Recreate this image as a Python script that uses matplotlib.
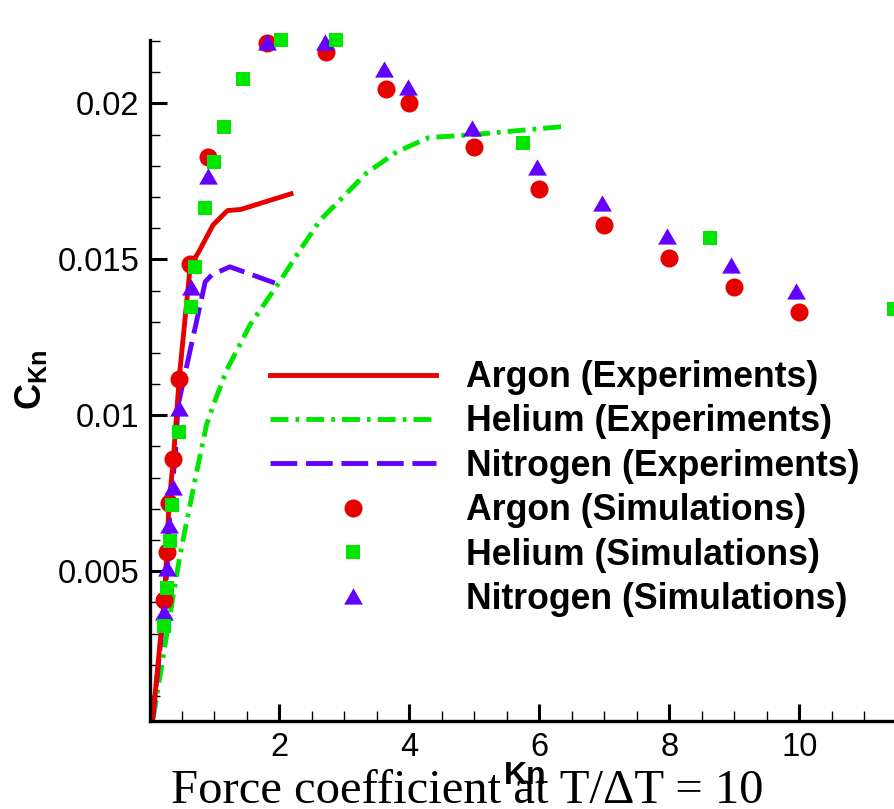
import matplotlib
matplotlib.use("Agg")
import matplotlib.pyplot as plt
from matplotlib.ticker import MultipleLocator, FuncFormatter

plt.rcParams['font.family'] = ['Liberation Sans', 'DejaVu Sans']
plt.rcParams['mathtext.fontset'] = 'custom'
plt.rcParams['mathtext.bf'] = 'Liberation Sans:bold'
plt.rcParams['mathtext.rm'] = 'Liberation Sans'

# ---- Experimental curves ----
argon_exp_kn = [0.05, 0.10, 0.16, 0.23, 0.27, 0.30, 0.37, 0.46, 0.63, 0.75, 0.98, 1.20, 1.41, 2.18]
argon_exp_c = [0.0003, 0.0013, 0.0026, 0.0041, 0.0056, 0.0071, 0.0086, 0.0112, 0.0148, 0.0152,
               0.0161, 0.01656, 0.0166, 0.0171]

helium_exp_kn = [0.06, 0.27, 0.47, 0.70, 0.88, 0.98, 1.19, 1.55, 2.01, 2.32, 2.63, 3.34, 3.81, 4.3, 5.0, 6.34]
helium_exp_c = [0.0003, 0.0030, 0.0055, 0.0079, 0.0097, 0.0103, 0.01145, 0.0129, 0.0143, 0.0153,
                0.01626, 0.01776, 0.01845, 0.0189, 0.0190, 0.01925]

nitrogen_exp_kn = [0.05, 0.215, 0.27, 0.32, 0.40, 0.44, 0.86, 0.96, 1.24, 1.93]
nitrogen_exp_c = [0.0002, 0.00355, 0.0050, 0.0071, 0.0087, 0.0103, 0.01428, 0.0145, 0.01476, 0.01424]

# ---- Simulation points ----
argon_sim_kn = [0.23, 0.27, 0.30, 0.37, 0.46, 0.63, 0.90, 1.81, 2.72, 3.64, 4.0,
                5.0, 6.0, 7.0, 8.0, 9.0, 10.0]
argon_sim_c = [0.00408, 0.00561, 0.00718, 0.00859, 0.01116, 0.01485, 0.01827, 0.02192, 0.02163,
               0.02047, 0.0200, 0.01859, 0.01726, 0.01609, 0.01505, 0.01412, 0.01330]

helium_sim_kn = [0.23, 0.27, 0.32, 0.35, 0.45, 0.64, 0.71, 0.86, 1.0, 1.15, 1.44, 2.02, 2.87,
                 5.75, 8.63, 11.45]
helium_sim_c = [0.00326, 0.00447, 0.00597, 0.00712, 0.00947, 0.01346, 0.01474, 0.01665, 0.01811,
                0.01924, 0.02077, 0.02203, 0.02203, 0.01872, 0.01569, 0.01341]

nitrogen_sim_kn = [0.22, 0.27, 0.31, 0.36, 0.46, 0.64, 0.90, 1.81, 2.70, 3.61, 3.98,
                   4.97, 5.96, 6.96, 7.96, 8.95, 9.95]
nitrogen_sim_c = [0.00369, 0.00510, 0.00649, 0.00769, 0.01022, 0.01410, 0.01767, 0.02198, 0.02198,
                  0.02110, 0.02053, 0.01922, 0.01795, 0.01679, 0.01575, 0.01482, 0.01398]

labels = ["Argon (Experiments)", "Helium (Experiments)", "Nitrogen (Experiments)",
          "Argon (Simulations)", "Helium (Simulations)", "Nitrogen (Simulations)"]

RED = "#e60000"
GREEN = "#00e600"
PURPLE = "#6400ff"

W, H = 895, 809
fig = plt.figure(figsize=(W / 100, H / 100), dpi=100)
ax = fig.add_axes([150.5 / W, 1 - 720.7 / H, 1 - 150.5 / W, (720.7 - 40) / H])

lw = 3.5
h_he, = ax.plot(helium_exp_kn, helium_exp_c, color=GREEN, lw=lw,
                dashes=(3.7, 1.45, 0.75, 1.45), zorder=2)
h_n2, = ax.plot(nitrogen_exp_kn, nitrogen_exp_c, color=PURPLE, lw=lw,
                dashes=(5.5, 1.8), zorder=2.1)
h_ar, = ax.plot(argon_exp_kn, argon_exp_c, color=RED, lw=lw, zorder=2.2,
                solid_joinstyle='round')

tri = [(-1, -0.866), (1, -0.866), (0, 0.866)]
s_ar, = ax.plot(argon_sim_kn, argon_sim_c, linestyle='none', marker='o', ms=13,
                mew=0, color=RED, zorder=3, clip_on=False)
s_n2, = ax.plot(nitrogen_sim_kn, nitrogen_sim_c, linestyle='none', marker=tri, ms=13.5,
                mew=0, color=PURPLE, zorder=3.1, clip_on=False)
s_he, = ax.plot(helium_sim_kn, helium_sim_c, linestyle='none', marker='s', ms=10.6,
                mew=0, color=GREEN, zorder=3.2, clip_on=False)

ax.set_xlim(0.018, (W - 149.3) / 65)
ax.set_ylim(0.00021, 0.02203)

for side in ("top", "right"):
    ax.spines[side].set_visible(False)
for side in ("left", "bottom"):
    ax.spines[side].set_linewidth(2.4)

ax.xaxis.set_major_locator(MultipleLocator(2))
ax.xaxis.set_minor_locator(MultipleLocator(0.5))
ax.yaxis.set_major_locator(MultipleLocator(0.005))
ax.yaxis.set_minor_locator(MultipleLocator(0.001))
ax.xaxis.set_major_formatter(FuncFormatter(lambda v, p: f"{v:g}"))
ax.yaxis.set_major_formatter(FuncFormatter(lambda v, p: f"{round(v, 6):g}"))
ax.tick_params(which='major', direction='in', length=12, width=2.2, labelsize=23.5, pad=8)
ax.tick_params(which='minor', direction='in', length=7, width=1.0)

leg_size = 25.7
leg_px = leg_size * 100 / 72
ax.legend([h_ar, h_he, h_n2, s_ar, s_he, s_n2], labels,
          loc='upper left', bbox_to_anchor=(270 / W, 1 - 360 / H),
          bbox_transform=fig.transFigure, frameon=False, borderpad=0, borderaxespad=0,
          handlelength=166 / leg_px, handletextpad=30 / leg_px, labelspacing=0.263,
          numpoints=1, prop={'weight': 'bold', 'size': leg_size})

fig.text(467 / W, 1 - 803 / H, "Force coefficient at T/\u0394T = 10",
         family=['Liberation Serif', 'DejaVu Serif'], size=35, ha='center', va='baseline')
fig.text(525 / W, 1 - 776 / H, "Kn", weight='bold', size=23, ha='center', va='center')
fig.text(31 / W, 1 - 380 / H, r"$\mathbf{C}_{\mathbf{Kn}}$", rotation=90, size=26,
         ha='center', va='center')

fig.savefig("out.png", dpi=100)
